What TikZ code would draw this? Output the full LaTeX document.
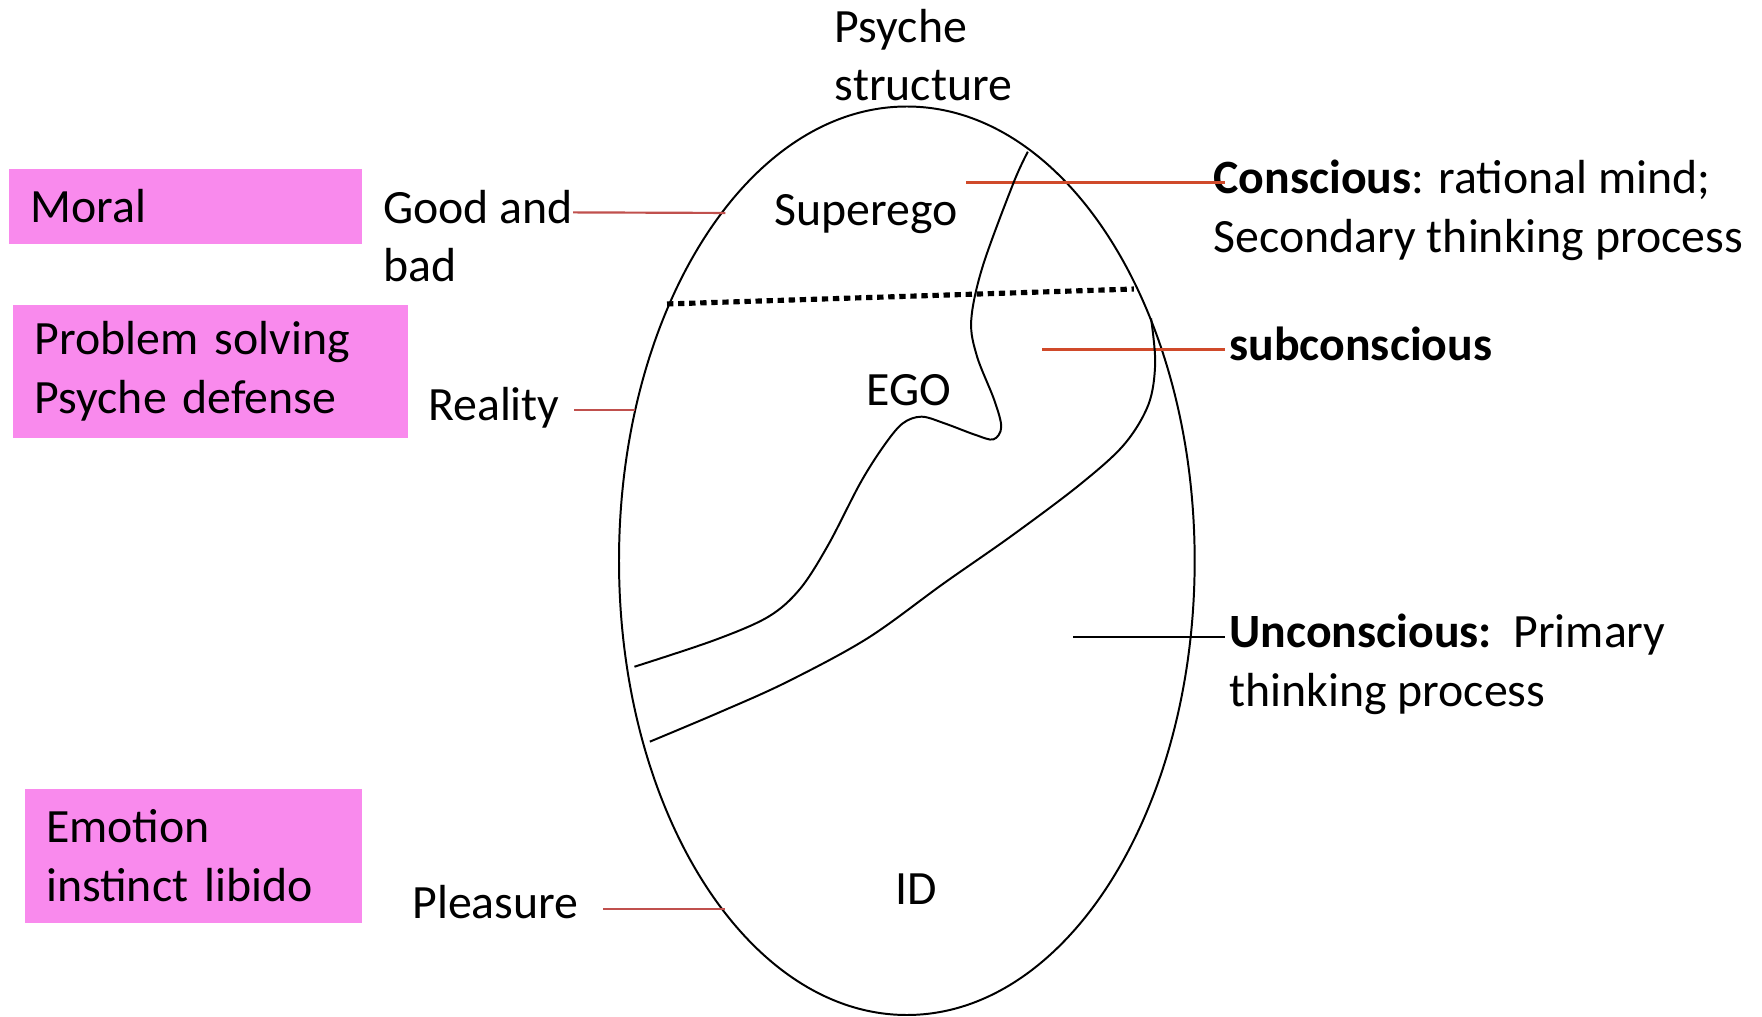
\documentclass[tikz,border=0pt]{standalone}
\usepackage{fontspec}
\setmainfont{Carlito}
\usetikzlibrary{shapes.geometric}
\definecolor{boxpink}{HTML}{F98AED}
\definecolor{lblred}{HTML}{C0504D}
\definecolor{conred}{HTML}{D04A2A}
\begin{document}
\begin{tikzpicture}[x=0.01cm,y=-0.01cm,
  every node/.style={inner sep=0pt, outer sep=0pt, font=\fontsize{12.1}{14.8}\selectfont},
  lbl/.style={anchor=base west, align=left},
  pinkbox/.style={fill=boxpink, anchor=north west, align=left, inner xsep=0.19cm, inner ysep=0pt},
  thinred/.style={draw=lblred, line width=0.55pt},
  conline/.style={draw=conred, line width=0.65pt},
  blkline/.style={draw=black, line width=0.6pt},
  outline/.style={draw=black, line width=0.5pt},
  dotline/.style={draw=black, line width=1.3pt, dash pattern=on 1.6pt off 1.2pt}
]
\useasboundingbox (0,0) rectangle (1568,905);

% title (base anchor = last line baseline)
\node[lbl] (title) at (743,89.5) {Psyche\\structure};

% ellipse
\node[outline, ellipse, minimum width=5.12cm, minimum height=8.08cm] (psyche) at (807,499) {};

% pink boxes
\node[pinkbox, minimum height=0.67cm, text width=3.14cm-0.38cm] (moral) at (8,150) {\raisebox{-0.6pt}{Moral}};
\node[pinkbox, minimum height=1.19cm, text width=3.51cm-0.38cm] (problem) at (12,271) {Problem solving\\Psyche defense};
\node[pinkbox, minimum height=1.19cm, text width=3.00cm-0.38cm] (emotion) at (22,702) {Emotion\\instinct libido};

% left labels
\node[lbl] (good) at (341,250.5) {Good and\\bad};
\node[lbl] (reality) at (381,374.5) {Reality};
\node[lbl] (pleasure) at (367,817.5) {Pleasure};

% inner labels
\node[lbl] (superego) at (689,200.5) {Superego};
\node[lbl] (ego) at (771,360.5) {EGO};
\node[lbl] (id) at (797,804.5) {ID};

% right labels
\node[lbl] (conscious) at (1080,224.5) {\textbf{Conscious}: rational mind;\\Secondary thinking process};
\node[lbl] (subcon) at (1094,320.5) {\textbf{subconscious}};
\node[lbl] (uncon) at (1094,628.5) {\textbf{Unconscious:}\ \ Primary\\thinking process};

% connector end points
\coordinate (gbA) at (510,189);   \coordinate (gbB) at (645.6,189.5);
\coordinate (reA) at (511,365);   \coordinate (reB) at (565.5,365);
\coordinate (plA) at (537,808.6); \coordinate (plB) at (645.6,808.6);
\coordinate (coA) at (860,162.6); \coordinate (coB) at (1090,162.6);
\coordinate (suA) at (927.3,311); \coordinate (suB) at (1090,311);
\coordinate (unA) at (955,566.6); \coordinate (unB) at (1090,566.6);

\draw[thinred] (gbA) -- (gbB);
\draw[thinred] (reA) -- (reB);
\draw[thinred] (plA) -- (plB);
\draw[conline] (coA) -- (coB);
\draw[conline] (suA) -- (suB);
\draw[blkline] (unA) -- (unB);

% dotted boundary
\coordinate (dtA) at (593.6,270.5); \coordinate (dtB) at (1009,257.2);
\draw[dotline] (dtA) -- (dtB);

% superego / ego boundary
\draw[outline] plot[smooth, tension=0.55] coordinates {
 (914.7,135) (901.8,163) (874.5,237) (864.3,285) (869.4,317) (884.8,356)
 (891,380) (884,391) (868,387) (840.5,376.7) (820,370.8) (803,377)
 (786,397.5) (765.5,430) (737,485) (712,524) (683.8,548.8) (636,569.6) (564.6,593.3)};

% subconscious boundary
\draw[outline] plot[smooth, tension=0.55] coordinates {
 (1024.3,283.3) (1028,323) (1022,360) (1000,396) (960,432) (900,477)
 (840,519) (772,568) (700,607) (640,634) (578.3,660)};
\end{tikzpicture}
\end{document}
